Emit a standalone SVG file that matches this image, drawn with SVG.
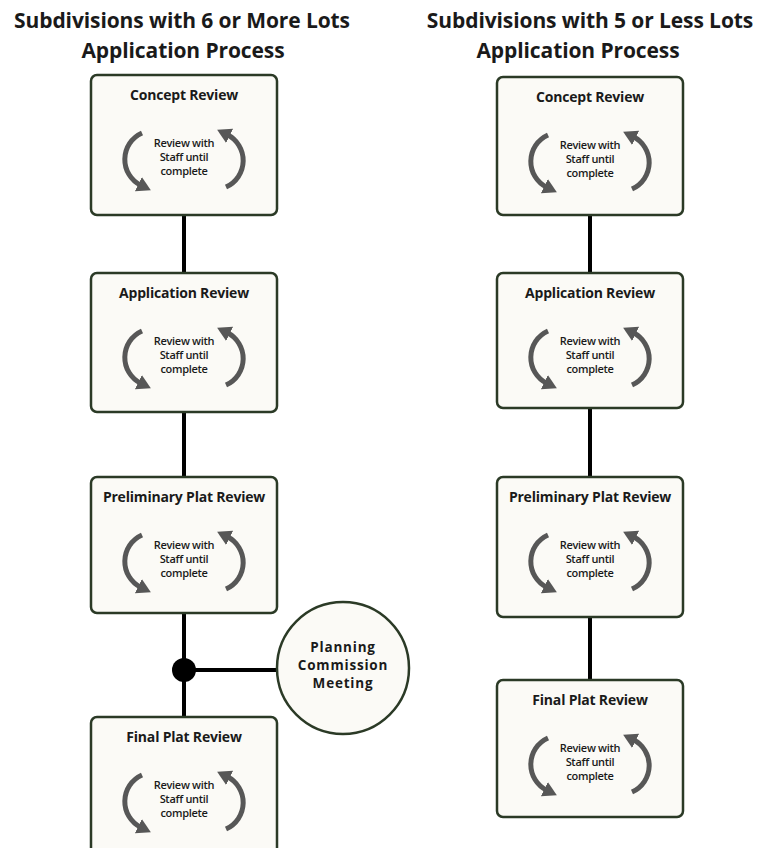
<svg xmlns="http://www.w3.org/2000/svg" width="763" height="848" viewBox="0 0 763 848">
<style>
.title{font-family:"Open Sans","Liberation Sans",sans-serif;font-weight:bold;font-size:21px;fill:#1a1a1a;text-anchor:middle;letter-spacing:-0.1px}
.box{fill:#fbfaf6;stroke:#2b3a26;stroke-width:2.5}
.bt{font-family:"Open Sans","Liberation Sans",sans-serif;font-weight:bold;font-size:14px;fill:#1a1a1a;text-anchor:middle;letter-spacing:-0.2px}
.it{font-family:"Open Sans","Liberation Sans",sans-serif;font-weight:600;font-size:11px;fill:#1a1a1a;text-anchor:middle;letter-spacing:-0.3px}
.arc{fill:none;stroke:#575757;stroke-width:5}
.conn{stroke:#000;stroke-width:4;fill:none}
.ct{font-family:"Open Sans","Liberation Sans",sans-serif;font-weight:bold;font-size:13.5px;fill:#1a1a1a;text-anchor:middle;letter-spacing:0.8px}
</style>
<defs>
<marker id="ah" markerUnits="userSpaceOnUse" viewBox="0 0 14 16" refX="3" refY="8" markerWidth="14" markerHeight="16" orient="auto">
<path d="M0,0 L14,8 L0,16 z" fill="#575757"/>
</marker>
<g id="cycle">
<path class="arc" d="M -42 58 A 29 29 0 0 0 -43 110.5" marker-end="url(#ah)"/>
<path class="arc" d="M -42 58 A 29 29 0 0 0 -43 110.5" marker-end="url(#ah)" transform="rotate(180 0 85)"/>
<text class="it" x="0" y="72">Review with</text>
<text class="it" x="0" y="86">Staff until</text>
<text class="it" x="0" y="100">complete</text>
</g>
</defs>

<g id="titles">
<text class="title" x="182" y="28">Subdivisions with 6 or More Lots</text>
<text class="title" x="183" y="58">Application Process</text>
<text class="title" x="590" y="28">Subdivisions with 5 or Less Lots</text>
<text class="title" x="578" y="58">Application Process</text>
</g>

<g id="connectors">
<line class="conn" x1="184" y1="215" x2="184" y2="273"/>
<line class="conn" x1="184" y1="412" x2="184" y2="477"/>
<line class="conn" x1="184" y1="613" x2="184" y2="717"/>
<line class="conn" x1="184" y1="670" x2="277" y2="670"/>
<circle cx="184" cy="670" r="12" fill="#000"/>
<line class="conn" x1="590" y1="215" x2="590" y2="277"/>
<line class="conn" x1="590" y1="408" x2="590" y2="477"/>
<line class="conn" x1="590" y1="617" x2="590" y2="680"/>
</g>

<g id="l-concept" transform="translate(184 75)">
<rect class="box" x="-93" y="0" width="186" height="140" rx="6"/>
<text class="bt" x="0" y="25">Concept Review</text>
<use href="#cycle"/>
</g>
<g id="l-application" transform="translate(184 273)">
<rect class="box" x="-93" y="0" width="186" height="139" rx="6"/>
<text class="bt" x="0" y="25">Application Review</text>
<use href="#cycle"/>
</g>
<g id="l-preliminary" transform="translate(184 477)">
<rect class="box" x="-93" y="0" width="186" height="136" rx="6"/>
<text class="bt" x="0" y="25">Preliminary Plat Review</text>
<use href="#cycle"/>
</g>
<g id="l-final" transform="translate(184 717)">
<rect class="box" x="-93" y="0" width="186" height="140" rx="6"/>
<text class="bt" x="0" y="25">Final Plat Review</text>
<use href="#cycle"/>
</g>
<g id="planning">
<circle cx="343" cy="668" r="66" fill="#fbfaf6" stroke="#2b3a26" stroke-width="2.5"/>
<text class="ct" x="343" y="652">Planning</text>
<text class="ct" x="343" y="670">Commission</text>
<text class="ct" x="343" y="688">Meeting</text>
</g>

<g id="r-concept" transform="translate(590 77)">
<rect class="box" x="-93" y="0" width="186" height="138" rx="6"/>
<text class="bt" x="0" y="25">Concept Review</text>
<use href="#cycle"/>
</g>
<g id="r-application" transform="translate(590 273)">
<rect class="box" x="-93" y="0" width="186" height="135" rx="6"/>
<text class="bt" x="0" y="25">Application Review</text>
<use href="#cycle"/>
</g>
<g id="r-preliminary" transform="translate(590 477)">
<rect class="box" x="-93" y="0" width="186" height="140" rx="6"/>
<text class="bt" x="0" y="25">Preliminary Plat Review</text>
<use href="#cycle"/>
</g>
<g id="r-final" transform="translate(590 680)">
<rect class="box" x="-93" y="0" width="186" height="137" rx="6"/>
<text class="bt" x="0" y="25">Final Plat Review</text>
<use href="#cycle"/>
</g>
</svg>
